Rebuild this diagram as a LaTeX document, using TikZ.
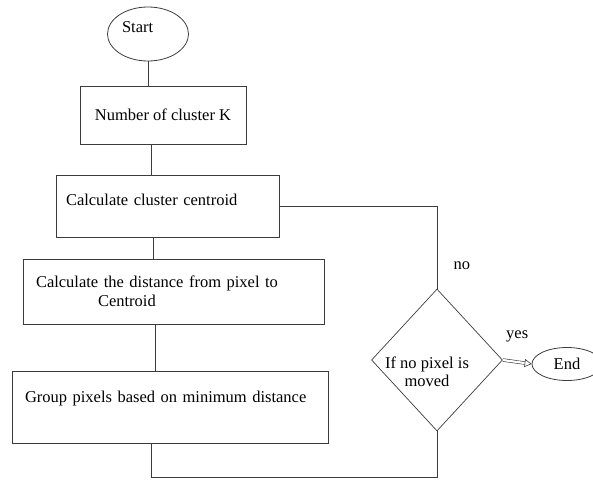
\documentclass[tikz,border=0pt]{standalone}
\usepackage{fontspec}
\setmainfont{Liberation Serif}
\usetikzlibrary{shapes,arrows.meta,positioning}
\definecolor{linegray}{RGB}{60,60,60}
\tikzstyle{term} = [ellipse, draw=linegray, line width=0.8pt, inner sep=0pt, text=black]
\tikzstyle{proc} = [rectangle, draw=linegray, line width=0.8pt, inner sep=0pt, text=black]
\tikzstyle{decision} = [diamond, draw=linegray, line width=0.7pt, inner sep=0pt, minimum width=131pt, minimum height=142pt]
\tikzstyle{fedge} = [draw=linegray, line width=0.8pt]
\tikzstyle{yesedge} = [draw=linegray, line width=0.6pt, double, double distance=2.2pt, -{Triangle[open,length=7pt,width=8pt]}]

\begin{document}
\begin{tikzpicture}[x=1pt, y=-1pt, font=\fontsize{16.5}{18.5}\selectfont]
\useasboundingbox (0,0) rectangle (593,479);

% terminals
\node[term, minimum width=81pt, minimum height=54pt, text width=52pt, align=left, text height=10pt, text depth=14pt] (start) at (148,34) {Start};
\node[term, minimum width=70pt, minimum height=33pt] (end) at (567,364) {End};

% process steps
\node[proc, minimum width=166pt, minimum height=58pt] (numk) at (163,115) {Number of cluster K};
\node[proc, minimum width=223pt, minimum height=62pt, inner xsep=10pt, text width=203pt, align=left, text height=10pt, text depth=12pt] (centroid) at (167.5,206) {Calculate cluster centroid};
\node[proc, minimum width=301pt, minimum height=65pt, inner xsep=13pt, text width=275pt, align=left] (dist) at (173.5,291.5) {Calculate the distance from pixel to\\\hspace*{62pt}Centroid};
\node[proc, minimum width=316pt, minimum height=72pt, inner xsep=13pt, text width=290pt, align=left, text height=10pt, text depth=20pt] (group) at (170,407) {Group pixels based on minimum distance};

% decision
\node[decision, label={[align=center, shift={(-10pt,-12pt)}]center:{If no pixel is\\moved}}] (dec) at (437,360) {};
\coordinate (back) at (437,477);

%edges
\path[fedge] (start.south) -- (start.south |- numk.north);
\path[fedge] ([xshift=3pt]start.south |- numk.south) -- ([xshift=3pt]start.south |- centroid.north);
\path[fedge] ([xshift=5pt]start.south |- centroid.south) -- ([xshift=5pt]start.south |- dist.north);
\path[fedge] ([xshift=7pt]start.south |- dist.south) -- ([xshift=7pt]start.south |- group.north);
\path[fedge] ([xshift=3pt]start.south |- group.south) |- (back) -- (dec.south);
\path[fedge] (centroid.east) -| node[pos=0.86, right=13pt] {no} (dec.north);
\path[yesedge] (dec.east) -- node[above=16pt] {yes} (end.west);

\end{tikzpicture}
\end{document}
